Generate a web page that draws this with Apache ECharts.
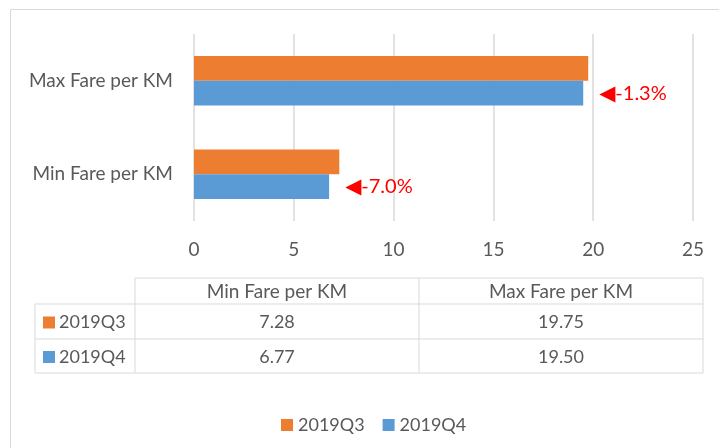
<!DOCTYPE html>
<html>
<head>
<meta charset="utf-8">
<script src="https://cdn.jsdelivr.net/npm/echarts@6/dist/echarts.min.js"></script>
<style>
  html, body { margin: 0; padding: 0; background: #fff; }
  #chart { width: 719px; height: 448px; }
</style>
</head>
<body>
<div id="chart"></div>
<script>
// data
const categories = ['Min Fare per KM', 'Max Fare per KM'];
const seriesNames = ['2019Q3', '2019Q4'];
const q3Values = [7.28, 19.75];
const q4Values = [6.77, 19.50];
const changeLabels = ['-7.0%', '-1.3%'];
const xTicks = [0, 25, 5];

const colors = { q3: '#ED7D31', q4: '#5B9BD5' };
const textColor = '#595959';
const lineColor = '#d9d9d9';
const font = 'Lato, "Liberation Sans", sans-serif';
const fs = 19;
const fsNum = 18;

const chart = echarts.init(document.getElementById('chart'));

/* table under the chart, built from the same arrays */
function buildTable() {
  let els = [];
  let colX = [35, 135, 419, 703];
  let rowY = [278, 304, 339, 373];
  let line = (x1, y1, x2, y2) => ({
    type: 'line',
    shape: { x1: x1, y1: y1, x2: x2, y2: y2 },
    style: { stroke: lineColor, lineWidth: 1 },
    silent: true
  });
  let text = (t, x, y, align, size) => ({
    type: 'text',
    style: {
      text: t, x: x, y: y, align: align || 'center', verticalAlign: 'middle',
      fill: textColor, fontSize: size || fs, fontFamily: font
    },
    silent: true
  });

  els.push(line(colX[1], rowY[0], colX[3], rowY[0]));
  for (let i = 1; i < rowY.length; i++) {
    els.push(line(colX[0], rowY[i], colX[3], rowY[i]));
  }
  els.push(line(colX[0], rowY[1], colX[0], rowY[3]));
  for (let i = 1; i < colX.length; i++) {
    els.push(line(colX[i], rowY[0], colX[i], rowY[3]));
  }

  // header
  for (let c = 0; c < categories.length; c++) {
    els.push(text(categories[c], (colX[c + 1] + colX[c + 2]) / 2, (rowY[0] + rowY[1]) / 2 + 1));
  }

  // rows
  let rows = [
    { name: seriesNames[0], color: colors.q3, vals: q3Values },
    { name: seriesNames[1], color: colors.q4, vals: q4Values }
  ];
  rows.forEach((r, i) => {
    let cy = (rowY[i + 1] + rowY[i + 2]) / 2 + 1;
    els.push({
      type: 'rect',
      shape: { x: 43, y: cy - 6, width: 12, height: 12 },
      style: { fill: r.color },
      silent: true
    });
    els.push(text(r.name, 59, cy, 'left', fsNum));
    for (let c = 0; c < r.vals.length; c++) {
      els.push(text(r.vals[c].toFixed(2), (colX[c + 1] + colX[c + 2]) / 2, cy, 'center', fsNum));
    }
  });

  // outer chart border
  els.push({
    type: 'rect',
    shape: { x: 10.5, y: 9.5, width: 720, height: 460 },
    style: { fill: null, stroke: lineColor, lineWidth: 1 },
    silent: true
  });
  return els;
}

const option = {
  animation: false,
  backgroundColor: '#fff',
  textStyle: { fontFamily: font },
  grid: {
    left: 194,
    right: 26,
    top: 34,
    bottom: 227,
    containLabel: false
  },
  legend: {
    data: seriesNames,
    left: 276,
    top: 411,
    icon: 'rect',
    itemWidth: 12,
    itemHeight: 12,
    itemGap: 18,
    textStyle: { color: textColor, fontSize: fsNum, fontFamily: font }
  },
  xAxis: {
    type: 'value',
    min: xTicks[0],
    max: xTicks[1],
    interval: xTicks[2],
    axisLine: { show: false },
    axisTick: { show: false },
    axisLabel: { color: textColor, fontSize: fs, fontFamily: font, margin: 19 },
    splitLine: { show: true, lineStyle: { color: lineColor, width: 1.5 } }
  },
  yAxis: {
    type: 'category',
    data: categories,
    axisLine: { show: false },
    axisTick: { show: false },
    axisLabel: { color: textColor, fontSize: fs, fontFamily: font, margin: 21 }
  },
  series: [
    {
      name: seriesNames[0],
      type: 'bar',
      data: q3Values,
      barGap: '0%',
      barCategoryGap: '47%',
      itemStyle: { color: colors.q3 }
    },
    {
      name: seriesNames[1],
      type: 'bar',
      data: q4Values,
      barGap: '0%',
      barCategoryGap: '47%',
      itemStyle: { color: colors.q4 },
      label: {
        show: true,
        position: 'right',
        distance: 16,
        formatter: p => '{t|◀}{v|' + changeLabels[p.dataIndex] + '}',
        rich: {
          t: { color: '#FF0000', fontSize: 21, fontFamily: '"DejaVu Sans"', padding: [2, 0, 0, 0] },
          v: { color: '#FF0000', fontSize: 20, fontFamily: font }
        }
      }
    }
  ],
  graphic: buildTable()
};

chart.setOption(option);
</script>
</body>
</html>
